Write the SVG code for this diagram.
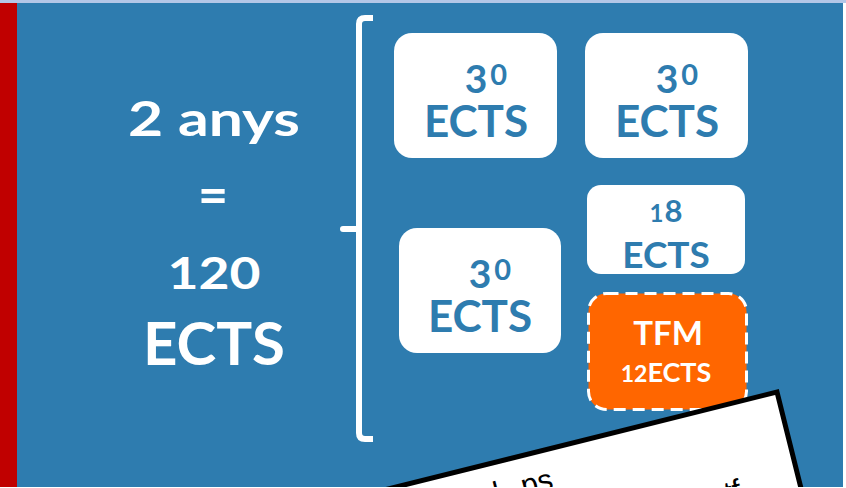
<svg xmlns="http://www.w3.org/2000/svg" width="846" height="488" viewBox="0 0 846 488">
<style>
.box{fill:#ffffff}
.bt{font-family:Lato,"Open Sans",sans-serif;font-weight:bold;fill:#2E7CAF;text-anchor:middle}
.wt{font-family:Lato,"Open Sans",sans-serif;font-weight:bold;fill:#ffffff;text-anchor:middle}
.card{font-family:"Liberation Sans",sans-serif;font-size:30px;fill:#000}
</style>
<defs><clipPath id="pg"><rect x="0" y="0" width="846" height="487"/></clipPath></defs>
<rect width="846" height="488" fill="#ffffff"/>
<g clip-path="url(#pg)">
<rect x="0" y="0" width="846" height="3" fill="#B4C7E7"/>
<rect x="17" y="3" width="826" height="484" fill="#2E7CAF"/>
<rect x="0" y="3" width="17" height="484" fill="#C00000"/>

<g id="left-text">
<text class="wt" x="214" y="136" font-size="47" textLength="172" lengthAdjust="spacingAndGlyphs">2 anys</text>
<text class="wt" x="213" y="213" font-size="52">=</text>
<text class="wt" x="214" y="289" font-size="43" textLength="93" lengthAdjust="spacingAndGlyphs">120</text>
<text class="wt" x="214" y="365" font-size="60">ECTS</text>
</g>

<g id="connectors">
<path d="M373,18 L365,18 Q359,18 359,24 L359,433 Q359,439 365,439 L373,439" fill="none" stroke="#fff" stroke-width="6"/>
<path d="M343,229 L359,229" fill="none" stroke="#fff" stroke-width="6" stroke-linecap="round"/>
</g>

<g id="box1"><rect class="box" x="394" y="33" width="163" height="125" rx="18"/>
<text class="bt" x="476"><tspan y="93" font-size="39">3</tspan><tspan y="85" font-size="29">0</tspan></text>
<text class="bt" x="476" y="137" font-size="44">ECTS</text></g>
<g id="box2"><rect class="box" x="585" y="33" width="163" height="125" rx="18"/>
<text class="bt" x="667"><tspan y="93" font-size="39">3</tspan><tspan y="85" font-size="29">0</tspan></text>
<text class="bt" x="667" y="137" font-size="44">ECTS</text></g>
<g id="box3"><rect class="box" x="399" y="228" width="162" height="125" rx="18"/>
<text class="bt" x="480"><tspan y="288" font-size="39">3</tspan><tspan y="280" font-size="29">0</tspan></text>
<text class="bt" x="480" y="332" font-size="44">ECTS</text></g>
<g id="box4"><rect class="box" x="587" y="185" width="158" height="89" rx="14"/>
<text class="bt" x="666" y="222"><tspan font-size="24">1</tspan><tspan font-size="31" dx="1">8</tspan></text>
<text class="bt" x="666" y="268" font-size="37">ECTS</text></g>
<g id="box5"><rect x="588.5" y="293.5" width="158" height="116" rx="18" fill="#FF6600" stroke="#fff" stroke-width="3" stroke-dasharray="12 7"/>
<text class="wt" x="668" y="345" font-size="33">TFM</text>
<text class="wt" x="666" y="382"><tspan font-size="23">12</tspan><tspan font-size="27">ECTS</tspan></text></g>

<g id="card" transform="translate(777,392) rotate(-14)">
<rect x="-520" y="0" width="520" height="300" fill="#fff" stroke="#000" stroke-width="5" stroke-linejoin="miter"/>
</g>
<text class="card" x="496" y="503" transform="rotate(-14 496 503)">l<tspan dx="22">ps</tspan></text>
<text class="card" x="727" y="503" transform="rotate(-14 727 503)">tf</text>
</g>
</svg>
